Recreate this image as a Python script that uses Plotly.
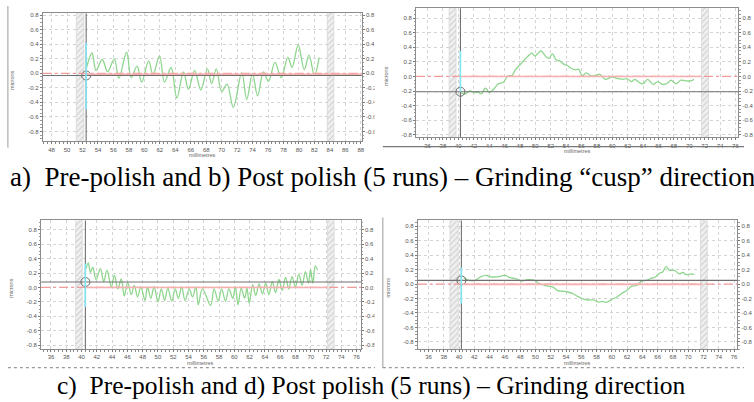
import plotly.graph_objects as go

FIG_W, FIG_H = 754, 402

# ---------------- data ----------------
# a) Pre-polish, grinding "cusp" direction
A_MM = [52.47, 53.23, 53.74, 54.55, 55.25, 56.1, 56.7, 57.7, 58.3, 59.05,
        59.65, 60.55, 61.12, 61.96, 62.6, 63.45, 64.2, 65.06, 65.7, 66.5,
        67.3, 68.15, 68.7, 69.3, 70.0, 70.7, 71.5, 72.6, 73.24, 73.98,
        74.64, 75.4, 76.05, 76.9, 77.7, 78.56, 79.1, 79.9, 80.68, 81.3,
        82.0, 82.6]
A_UM = [0.06, 0.28, 0.04, 0.19, 0.02, 0.20, -0.07, 0.29, -0.06, 0.10,
        -0.12, 0.17, -0.02, 0.24, -0.12, 0.08, -0.34, 0.02, -0.22, 0.04,
        -0.23, 0.06, -0.14, 0.06, -0.25, -0.15, -0.47, 0.01, -0.36, 0.0,
        -0.31, 0.02, -0.11, 0.15, -0.06, 0.22, 0.08, 0.39, 0.05, 0.25,
        -0.03, 0.22]

# b) Post polish (5 runs), grinding "cusp" direction
B_MM = [40.36, 40.9, 41.5, 42.05, 42.6, 43.0, 43.5, 44.0, 44.55, 45.2,
        45.83, 46.47, 46.95, 47.4, 48.0, 48.6, 49.25, 49.55, 49.95, 50.35,
        50.74, 51.4, 51.8, 52.2, 52.7, 53.2, 53.7, 54.15, 54.7, 55.2,
        55.6, 56.1, 56.6, 57.2, 58.0, 58.4, 59.1, 59.9, 60.8, 61.4,
        61.85, 62.5, 62.9, 63.6, 64.0, 64.6, 65.3, 65.9, 66.55, 67.2,
        67.6, 68.3, 68.9, 69.5, 70.2, 70.6]
B_UM = [-0.23, -0.24, -0.20, -0.22, -0.22, -0.24, -0.16, -0.22, -0.18, -0.10,
        -0.08, 0.01, 0.01, 0.09, 0.16, 0.23, 0.30, 0.32, 0.28, 0.32,
        0.35, 0.27, 0.25, 0.31, 0.23, 0.21, 0.17, 0.15, 0.11, 0.09,
        0.10, 0.01, 0.05, 0.01, 0.02, 0.03, -0.04, -0.01, -0.03, -0.04,
        -0.03, -0.07, -0.04, -0.09, -0.10, -0.04, -0.11, -0.07, -0.11, -0.09,
        -0.05, -0.10, -0.05, -0.06, -0.06, -0.04]

# c) Pre-polish, grinding direction
C_MM = [40.6, 40.87, 41.17, 41.47, 41.9, 42.47, 42.9, 43.33, 43.9, 44.3,
        44.75, 45.2, 45.6, 46.04, 46.5, 46.9, 47.33, 47.77, 48.3, 48.63,
        49.06, 49.5, 50.0, 50.44, 50.87, 51.3, 51.8, 52.25, 52.68, 53.1,
        53.55, 54.1, 54.53, 54.97, 55.27, 55.83, 56.9, 57.34, 57.9, 58.33,
        58.85, 59.28, 59.8, 60.14, 60.48, 60.9, 61.35, 61.65, 61.95, 62.4,
        62.8, 63.24, 63.68, 64.1, 64.53, 64.97, 65.4, 65.83, 66.27, 66.7,
        67.13, 67.56, 68.0, 68.43, 68.87, 69.3, 69.7, 69.97, 70.27, 70.6,
        70.9]
C_UM = [0.26, 0.34, 0.21, 0.28, 0.11, 0.26, 0.08, 0.24, 0.01, 0.17,
        -0.02, 0.12, -0.12, 0.07, -0.10, 0.03, -0.13, 0.01, -0.18, 0.01,
        -0.15, 0.01, -0.20, -0.02, -0.18, -0.01, -0.19, -0.02, -0.15, 0.01,
        -0.18, -0.02, -0.13, 0.01, -0.24, -0.02, -0.25, -0.02, -0.19, -0.02,
        -0.19, -0.02, -0.15, 0.01, -0.24, -0.01, -0.15, -0.01, -0.22, 0.04,
        -0.11, 0.05, -0.09, 0.06, -0.10, 0.08, -0.07, 0.11, -0.04, 0.14,
        -0.02, 0.15, 0.01, 0.18, 0.03, 0.22, 0.06, 0.25, 0.06, 0.30,
        0.24]

# d) Post polish (5 runs), grinding direction
D_MM = [40.6, 41.3, 42.1, 42.8, 43.6, 44.06, 44.9, 45.57, 46.0, 46.65,
        47.5, 48.2, 48.6, 49.0, 49.9, 50.4, 51.0, 51.6, 52.25, 52.9,
        53.54, 54.2, 54.84, 55.5, 56.13, 56.78, 57.6, 58.3, 58.7, 59.36,
        60.0, 60.65, 61.3, 61.95, 62.6, 63.24, 63.9, 64.5, 65.2, 65.6,
        66.26, 66.7, 67.1, 67.55, 68.2, 68.85, 69.3, 69.7, 70.35, 70.8]
D_UM = [0.09, 0.05, 0.05, 0.10, 0.12, 0.10, 0.10, 0.11, 0.12, 0.09,
        0.07, 0.04, 0.05, 0.06, 0.05, 0.01, -0.01, -0.03, -0.04, -0.09,
        -0.10, -0.11, -0.13, -0.17, -0.20, -0.22, -0.22, -0.25, -0.24, -0.25,
        -0.21, -0.18, -0.13, -0.09, -0.03, -0.02, 0.04, 0.05, 0.08, 0.09,
        0.15, 0.17, 0.24, 0.19, 0.19, 0.14, 0.16, 0.13, 0.14, 0.13]

# cursor / reference values per panel
A_CURSOR_X, A_LEVEL, A_RED, A_CYAN = 52.47, -0.03, -0.015, (-0.50, 0.42)
B_CURSOR_X, B_LEVEL, B_RED, B_CYAN = 40.27, -0.21, 0.0, (-0.21, 0.35)
C_CURSOR_X, C_LEVEL, C_RED, C_CYAN = 40.5, 0.076, 0.0, (-0.27, 0.33)
D_CURSOR_X, D_LEVEL, D_RED, D_CYAN = 40.3, 0.05, -0.005, (-0.27, 0.23)

# excluded (hatched) zones, mm
A_BANDS = [(51.19, 52.17), (83.66, 84.51)]
B_BANDS = [(38.8, 39.7), (71.6, 72.5)]
C_BANDS = [(39.23, 40.09), (72.2, 73.07)]
D_BANDS = [(38.8, 39.9), (71.6, 72.5)]

# axis ranges
A_XRANGE, A_YRANGE = [46.85, 88.13], [-0.937, 0.827]
B_XRANGE, B_YRANGE = [34.51, 76.38], [-0.837, 0.937]
C_XRANGE, C_YRANGE = [34.71, 76.56], [-0.854, 0.928]
D_XRANGE, D_YRANGE = [34.58, 76.44], [-0.90, 0.879]

# tick labels
A_XTICKS = list(range(48, 89, 2))
BCD_XTICKS = list(range(36, 77, 2))
Y_TICKS = [0.8, 0.6, 0.4, 0.2, 0.0, -0.2, -0.4, -0.6, -0.8]
Y_TICK_TEXT = ["0.8", "0.6", "0.4", "0.2", "0.0", "-0.2", "-0.4", "-0.6", "-0.8"]

X_TITLE = "millimetres"
Y_TITLE = "microns"
CAPTION_AB = "a)  Pre-polish and b) Post polish (5 runs) \u2013 Grinding \u201ccusp\u201d direction"
CAPTION_CD = "c)  Pre-polish and d) Post polish (5 runs) \u2013 Grinding direction"

# ---------------- layout geometry (pixels: left, top, right, bottom) ----------------
BOXES = {
    "a": (43.3, 12.3, 366.7, 140.7),
    "b": (421.7, 7.3, 748.3, 136.7),
    "c": (41.7, 220.0, 365.7, 349.0),
    "d": (423.3, 220.0, 747.3, 349.0),
}

PANELS = [
    dict(key="a", n=1, mm=A_MM, um=A_UM, cx=A_CURSOR_X, lvl=A_LEVEL, red=A_RED, cyan=A_CYAN,
         bands=A_BANDS, xr=A_XRANGE, yr=A_YRANGE, xt=A_XTICKS, red_end=A_XRANGE[1]),
    dict(key="b", n=2, mm=B_MM, um=B_UM, cx=B_CURSOR_X, lvl=B_LEVEL, red=B_RED, cyan=B_CYAN,
         bands=B_BANDS, xr=B_XRANGE, yr=B_YRANGE, xt=BCD_XTICKS, red_end=B_BANDS[1][0]),
    dict(key="c", n=3, mm=C_MM, um=C_UM, cx=C_CURSOR_X, lvl=C_LEVEL, red=C_RED, cyan=C_CYAN,
         bands=C_BANDS, xr=C_XRANGE, yr=C_YRANGE, xt=BCD_XTICKS, red_end=C_BANDS[1][0]),
    dict(key="d", n=4, mm=D_MM, um=D_UM, cx=D_CURSOR_X, lvl=D_LEVEL, red=D_RED, cyan=D_CYAN,
         bands=D_BANDS, xr=D_XRANGE, yr=D_YRANGE, xt=BCD_XTICKS, red_end=D_BANDS[1][0]),
]

TICK_FONT = dict(family="Liberation Sans, Arial, sans-serif", size=6, color="#555555")
FRAME = "#8c8c8c"
GRID = "#d4d4d4"


def px_x(p):
    return p / FIG_W


def px_y(p):
    return 1 - p / FIG_H


fig = go.Figure()
layout = dict(
    width=FIG_W, height=FIG_H, margin=dict(l=0, r=0, t=0, b=0),
    paper_bgcolor="white", plot_bgcolor="white", showlegend=False,
)
shapes = []
annotations = []

for p in PANELS:
    n = p["n"]
    l, t, r, b = BOXES[p["key"]]
    xa = "x" if n == 1 else f"x{n}"
    ya = "y" if n == 1 else f"y{n}"
    ya_r = f"y{n + 4}"
    xkey = "xaxis" if n == 1 else f"xaxis{n}"
    ykey = "yaxis" if n == 1 else f"yaxis{n}"

    layout[xkey] = dict(
        domain=[px_x(l), px_x(r)], range=p["xr"], anchor=ya,
        tickvals=p["xt"], ticktext=[str(v) for v in p["xt"]],
        ticks="outside", ticklen=2, tickwidth=1, tickcolor="#777777", tickfont=TICK_FONT,
        showgrid=True, gridcolor=GRID, griddash="dot", gridwidth=1,
        showline=True, linecolor=FRAME, linewidth=1, mirror=True, zeroline=False,
        minor=dict(tickmode="linear", tick0=0, dtick=0.5, ticks="outside", ticklen=2,
                   tickcolor="#888888", showgrid=False),
        fixedrange=True,
    )
    ycommon = dict(
        range=p["yr"], tickvals=Y_TICKS, ticktext=Y_TICK_TEXT,
        ticks="outside", ticklen=2, tickwidth=1, tickcolor="#777777", tickfont=TICK_FONT,
        zeroline=False, fixedrange=True,
        minor=dict(tickmode="linear", tick0=0, dtick=0.05, ticks="outside", ticklen=1.5,
                   tickcolor="#999999", showgrid=False),
    )
    layout[ykey] = dict(
        domain=[px_y(b), px_y(t)], anchor=xa, side="left",
        showgrid=True, gridcolor=GRID, griddash="dot", gridwidth=1,
        showline=True, linecolor=FRAME, linewidth=1, mirror=True, **ycommon,
    )
    layout[f"yaxis{n + 4}"] = dict(
        overlaying=ya, anchor=xa, side="right", showgrid=False, showline=False, **ycommon,
    )

    # hatched exclusion zones
    for (b0, b1) in p["bands"]:
        fig.add_trace(go.Scatter(
            x=[b0, b1, b1, b0, b0], y=[p["yr"][0], p["yr"][0], p["yr"][1], p["yr"][1], p["yr"][0]],
            xaxis=xa, yaxis=ya, mode="lines", fill="toself",
            fillcolor="#f0f0f0",
            fillpattern=dict(shape="/", fgcolor="#b0b0b0", bgcolor="#f1f1f1", size=4, solidity=0.3),
            line=dict(color="#cfcfcf", width=0.6), hoverinfo="skip",
        ))

    # nominal zero (dash-dot) and fitted reference (solid) in red
    shapes.append(dict(type="line", xref=f"{xa} domain", yref=ya, x0=0, x1=1, y0=0, y1=0,
                       line=dict(color="#f29a9a", width=1.2, dash="dashdot"), layer="above"))
    shapes.append(dict(type="line", xref=xa, yref=ya, x0=p["cx"], x1=p["red_end"], y0=p["red"], y1=p["red"],
                       line=dict(color="#f6b0b0", width=1.6), layer="above"))
    # cursor cross-hair
    shapes.append(dict(type="line", xref=f"{xa} domain", yref=ya, x0=0, x1=1, y0=p["lvl"], y1=p["lvl"],
                       line=dict(color="#707070", width=1.1), layer="above"))
    shapes.append(dict(type="line", xref=xa, yref=f"{ya} domain", x0=p["cx"], x1=p["cx"], y0=0, y1=1,
                       line=dict(color="#707070", width=1.1), layer="above"))
    shapes.append(dict(type="line", xref=xa, yref=ya, x0=p["cx"], x1=p["cx"],
                       y0=p["cyan"][0], y1=p["cyan"][1],
                       line=dict(color="#80e6f2", width=1.6), layer="above"))

    # right-axis anchor trace (invisible) so mirrored labels render
    fig.add_trace(go.Scatter(x=p["mm"], y=p["um"], xaxis=xa, yaxis=ya_r, mode="lines",
                             line=dict(width=0, color="rgba(0,0,0,0)"), hoverinfo="skip"))

    # measured profile
    fig.add_trace(go.Scatter(x=p["mm"], y=p["um"], xaxis=xa, yaxis=ya, mode="lines",
                             line=dict(color="#8ed68e", width=1.3, shape="spline", smoothing=1.0),
                             hoverinfo="skip"))
    # cursor circle
    fig.add_trace(go.Scatter(x=[p["cx"]], y=[p["lvl"]], xaxis=xa, yaxis=ya, mode="markers",
                             marker=dict(symbol="circle-open", size=9, color="#6a6a6a",
                                         line=dict(width=1, color="#6a6a6a")),
                             hoverinfo="skip"))

    # axis titles
    annotations.append(dict(text=Y_TITLE, xref="paper", yref="paper",
                            x=px_x(l - 30.5), y=px_y((t + b) / 2 + 3), textangle=-90,
                            showarrow=False, xanchor="center", yanchor="middle",
                            font=dict(family="Liberation Sans, Arial, sans-serif", size=5.5,
                                      color="#666666")))
    annotations.append(dict(text=X_TITLE, xref="paper", yref="paper",
                            x=px_x((l + r) / 2), y=px_y(b + 13.5),
                            showarrow=False, xanchor="center", yanchor="middle",
                            font=dict(family="Liberation Sans, Arial, sans-serif", size=5.5,
                                      color="#666666")))

# clip the right labels of the left-hand images where the right-hand images begin
shapes.append(dict(type="rect", xref="paper", yref="paper", x0=px_x(379.5), x1=px_x(387.5),
                   y0=px_y(150), y1=px_y(0), fillcolor="white", line=dict(width=0), layer="above"))
shapes.append(dict(type="rect", xref="paper", yref="paper", x0=px_x(379.5), x1=px_x(387.5),
                   y0=px_y(366), y1=px_y(205), fillcolor="white", line=dict(width=0), layer="above"))

# image borders
BORDER = "#9a9a9a"
shapes += [
    dict(type="line", xref="paper", yref="paper", x0=px_x(8), x1=px_x(8), y0=px_y(147), y1=px_y(5),
         line=dict(color=BORDER, width=1)),
    dict(type="line", xref="paper", yref="paper", x0=px_x(388), x1=px_x(754), y0=px_y(146), y1=px_y(146),
         line=dict(color="#777777", width=1.2)),
    dict(type="line", xref="paper", yref="paper", x0=px_x(8), x1=px_x(380), y0=px_y(367.5), y1=px_y(367.5),
         line=dict(color=BORDER, width=1.2, dash="dot")),
    dict(type="line", xref="paper", yref="paper", x0=px_x(388), x1=px_x(754), y0=px_y(367.5), y1=px_y(367.5),
         line=dict(color=BORDER, width=1.2, dash="dot")),
    dict(type="line", xref="paper", yref="paper", x0=px_x(388), x1=px_x(388), y0=px_y(368), y1=px_y(217),
         line=dict(color=BORDER, width=1)),
]

# captions
annotations.append(dict(text=CAPTION_AB, xref="paper", yref="paper", x=px_x(8), y=px_y(176),
                        xanchor="left", yanchor="middle", showarrow=False,
                        font=dict(family="Liberation Serif, Times New Roman, serif", size=27,
                                  color="black")))
annotations.append(dict(text=CAPTION_CD, xref="paper", yref="paper", x=px_x(376), y=px_y(385),
                        xanchor="center", yanchor="middle", showarrow=False,
                        font=dict(family="Liberation Serif, Times New Roman, serif", size=25.5,
                                  color="black")))

layout["shapes"] = shapes
layout["annotations"] = annotations
fig.update_layout(**layout)

fig.write_html("out.html", config={"displayModeBar": False, "staticPlot": True},
               post_script="document.body.style.margin='0px';")
